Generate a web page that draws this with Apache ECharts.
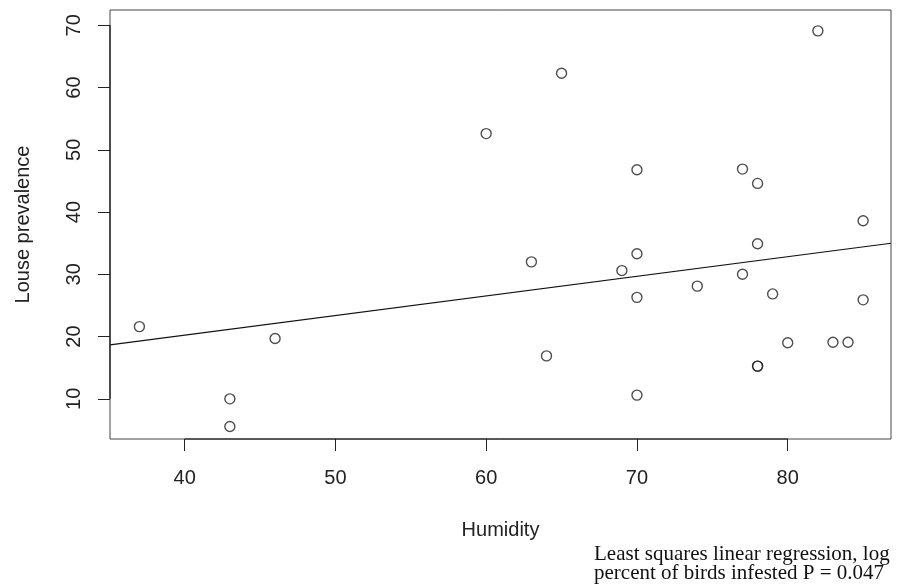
<!DOCTYPE html>
<html>
<head>
<meta charset="utf-8">
<title>Louse prevalence vs humidity</title>
<script src="https://cdn.jsdelivr.net/npm/echarts@6/dist/echarts.min.js"></script>
<style>
  html, body { margin: 0; padding: 0; background: #fff; }
  #chart { width: 898px; height: 588px; }
</style>
</head>
<body>
<div id="chart"></div>
<script>
// values
const humidity = [37, 43, 43, 46, 60, 63, 64, 65, 69, 70, 70, 70, 70, 74, 77, 77, 78, 78, 78, 78, 79, 80, 82, 83, 84, 85, 85];
const prevalence = [21.6, 10.0, 5.55, 19.7, 52.6, 32.0, 16.9, 62.3, 30.6, 46.8, 33.3, 26.3, 10.6, 28.1, 46.9, 30.0, 44.6, 34.9, 15.25, 15.25, 26.85, 19.0, 69.1, 19.1, 19.1, 38.6, 25.9];

const xTicks = [40, 50, 60, 70, 80];
const yTicks = [10, 20, 30, 40, 50, 60, 70];

// fitted line (as drawn in the figure)
const fitIntercept = 7.63;
const fitSlope = 0.315;

// axis ranges (R style, 4% padding)
const xRange = [35.05, 86.85];
const yRange = [3.55, 72.45];

const xTitle = 'Humidity';
const yTitle = 'Louse prevalence';
const footnote = ['Least squares linear regression, log', 'percent of birds infested P = 0.047'];

const points = humidity.map((h, i) => [h, prevalence[i]]);
const fitLine = xRange.map(x => [x, fitIntercept + fitSlope * x]);

const sans = 'Liberation Sans';
const ink = '#222';

const chart = echarts.init(document.getElementById('chart'), null, { renderer: 'canvas' });

const option = {
    animation: false,
    backgroundColor: '#fff',
    grid: {
        left: 110, right: 7, top: 10, bottom: 149,
        show: true,
        borderColor: '#444',
        borderWidth: 1,
        backgroundColor: 'transparent'
    },
    xAxis: {
        type: 'value',
        min: xRange[0],
        max: xRange[1],
        name: xTitle,
        nameLocation: 'middle',
        nameGap: 81,
        nameTextStyle: { fontFamily: sans, fontSize: 20, color: ink },
        axisLine: { show: false },
        splitLine: { show: false },
        axisTick: {
            show: true, length: 12, inside: false,
            customValues: xTicks,
            lineStyle: { color: ink, width: 1 }
        },
        axisLabel: {
            customValues: xTicks,
            margin: 29,
            fontFamily: sans, fontSize: 20, color: ink
        }
    },
    yAxis: {
        type: 'value',
        min: yRange[0],
        max: yRange[1],
        name: yTitle,
        nameLocation: 'middle',
        nameRotate: 90,
        nameGap: 77,
        nameTextStyle: { fontFamily: sans, fontSize: 20, color: ink },
        axisLine: { show: false },
        splitLine: { show: false },
        axisTick: {
            show: true, length: 12, inside: false,
            customValues: yTicks,
            lineStyle: { color: ink, width: 1 }
        },
        axisLabel: {
            customValues: yTicks,
            rotate: 90,
            margin: 26,
            fontFamily: sans, fontSize: 20, color: ink
        }
    },
    graphic: [{
        type: 'text',
        left: 594,
        top: 543.5,
        style: {
            text: footnote.join('\n'),
            fontFamily: 'Liberation Serif',
            fontSize: 21,
            lineHeight: 19.5,
            fill: '#111',
            textAlign: 'left'
        }
    }],
    series: [
        {
            // R draws the axis line only between first and last tick
            type: 'line',
            data: [[xTicks[0], yRange[0]], [xTicks[xTicks.length - 1], yRange[0]]],
            symbol: 'none',
            clip: false,
            silent: true,
            lineStyle: { color: '#111', width: 1.2 }
        },
        {
            type: 'line',
            data: [[xRange[0], yTicks[0]], [xRange[0], yTicks[yTicks.length - 1]]],
            symbol: 'none',
            clip: false,
            silent: true,
            lineStyle: { color: '#111', width: 1.2 }
        },
        {
            name: 'fit',
            type: 'line',
            data: fitLine,
            symbol: 'none',
            silent: true,
            lineStyle: { color: '#111', width: 1.1 }
        },
        {
            name: 'birds',
            type: 'scatter',
            data: points,
            symbol: 'circle',
            symbolSize: 10,
            itemStyle: {
                color: 'rgba(0,0,0,0)',
                borderColor: '#222',
                borderWidth: 1.4
            }
        }
    ]
};

chart.setOption(option);
</script>
</body>
</html>
